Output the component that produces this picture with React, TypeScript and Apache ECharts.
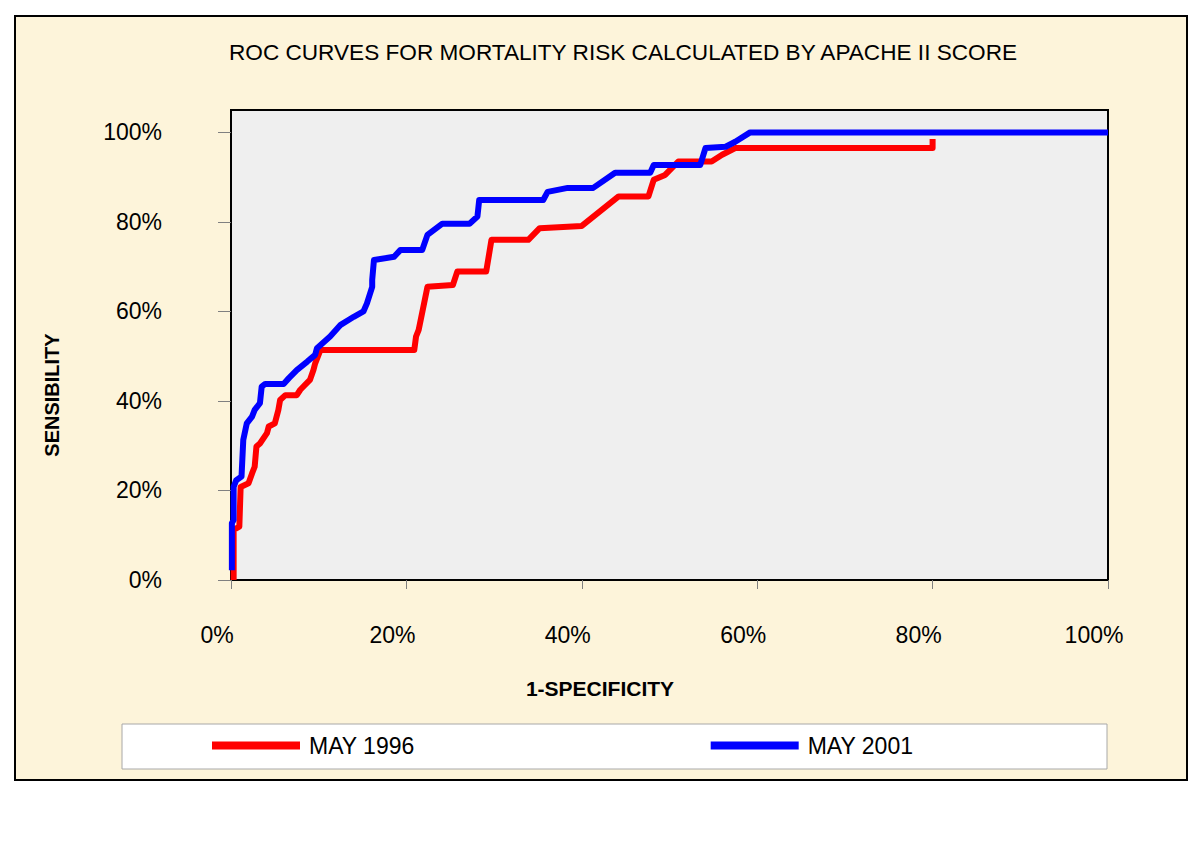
import React, { useEffect, useRef } from "react";
import * as echarts from "echarts";

const TITLE = "ROC CURVES FOR MORTALITY RISK CALCULATED BY APACHE II SCORE";
const X_NAME = "1-SPECIFICITY";
const Y_NAME = "SENSIBILITY";
const SERIES_NAMES = ["MAY 1996", "MAY 2001"];
const TICK_VALUES = [0, 0.2, 0.4, 0.6, 0.8, 1.0];

// MAY 1996 (red) ROC points: 1-specificity, sensitivity
const red1996X = [0.003, 0.003, 0.0095, 0.011, 0.02, 0.024, 0.027, 0.029, 0.033, 0.041, 0.043, 0.05, 0.054, 0.056, 0.062, 0.075, 0.079, 0.09, 0.094, 0.096, 0.102, 0.209, 0.211, 0.214, 0.224, 0.253, 0.258, 0.291, 0.297, 0.339, 0.352, 0.4, 0.442, 0.476, 0.482, 0.495, 0.51, 0.548, 0.56, 0.575, 0.8, 0.8];
const red1996Y = [0, 0.112, 0.119, 0.208, 0.216, 0.238, 0.253, 0.298, 0.305, 0.328, 0.343, 0.35, 0.38, 0.402, 0.413, 0.413, 0.425, 0.447, 0.469, 0.484, 0.514, 0.514, 0.544, 0.559, 0.655, 0.659, 0.689, 0.689, 0.76, 0.76, 0.786, 0.791, 0.857, 0.857, 0.894, 0.905, 0.935, 0.935, 0.95, 0.965, 0.965, 0.985];

// MAY 2001 (blue) ROC points
const blue2001X = [0.001, 0.001, 0.003, 0.003, 0.006, 0.012, 0.014, 0.018, 0.024, 0.027, 0.033, 0.035, 0.039, 0.06, 0.066, 0.075, 0.087, 0.096, 0.098, 0.113, 0.125, 0.14, 0.151, 0.155, 0.161, 0.161, 0.163, 0.186, 0.193, 0.218, 0.224, 0.241, 0.272, 0.281, 0.283, 0.356, 0.361, 0.384, 0.413, 0.438, 0.478, 0.482, 0.535, 0.541, 0.564, 0.575, 0.592, 1.0];
const blue2001Y = [0.022, 0.127, 0.134, 0.208, 0.223, 0.231, 0.313, 0.35, 0.365, 0.38, 0.395, 0.432, 0.438, 0.438, 0.451, 0.469, 0.488, 0.503, 0.518, 0.544, 0.57, 0.588, 0.6, 0.618, 0.655, 0.67, 0.715, 0.722, 0.737, 0.737, 0.771, 0.796, 0.796, 0.812, 0.849, 0.849, 0.867, 0.876, 0.876, 0.91, 0.91, 0.927, 0.927, 0.965, 0.968, 0.979, 1.0, 1.0];

const pct = (v: number) => {
  const k = v * 5;
  if (Math.abs(k - Math.round(k)) > 1e-6 || v > 1.0001) return "";
  return Math.round(v * 100) + "%";
};

const zip = (xs: number[], ys: number[]) => xs.map((x, i) => [x, ys[i]]);

const FONT = "Liberation Sans, Arial, sans-serif";

export default function App() {
  const ref = useRef<HTMLDivElement>(null);
  useEffect(() => {
    if (!ref.current) return;
    const chart = echarts.init(ref.current, null, { renderer: "svg" });
    chart.setOption({
      animation: false,
      backgroundColor: "#ffffff",
      title: {
        text: TITLE,
        left: 224,
        top: 36,
        textStyle: { fontFamily: FONT, fontSize: 22.6, fontWeight: "normal", color: "#000" },
      },
      graphic: [
        {
          type: "rect",
          z: -10,
          shape: { x: 15, y: 16, width: 1172, height: 764 },
          style: { fill: "#FDF4DA", stroke: "#000", lineWidth: 2 },
        },
        {
          type: "rect",
          z: -5,
          shape: { x: 122, y: 724, width: 985, height: 45 },
          style: { fill: "#ffffff", stroke: "#A8A8A8", lineWidth: 1 },
        },
        {
          type: "text",
          x: 52,
          y: 395,
          rotation: Math.PI / 2,
          style: {
            text: Y_NAME,
            fontFamily: FONT,
            fontSize: 20,
            fontWeight: "bold",
            fill: "#000",
            align: "center",
            verticalAlign: "middle",
          },
        },
        {
          type: "text",
          x: 600,
          y: 688,
          style: {
            text: X_NAME,
            fontFamily: FONT,
            fontSize: 21,
            fontWeight: "bold",
            fill: "#000",
            align: "center",
            verticalAlign: "middle",
          },
        },
      ],
      legend: {
        data: SERIES_NAMES,
        left: 207,
        top: 729,
        icon: "rect",
        itemWidth: 88,
        itemHeight: 8,
        itemGap: 296,
        textStyle: { fontFamily: FONT, fontSize: 23, color: "#000", padding: [0, 0, 0, 4] },
      },
      grid: {
        left: 231,
        top: 110,
        width: 877,
        height: 470,
        show: true,
        backgroundColor: "#EFEFEF",
        borderColor: "#000",
        borderWidth: 2,
        containLabel: false,
      },
      xAxis: {
        type: "value",
        min: 0,
        max: 1,
        interval: 0.2,
        axisLine: { show: true, lineStyle: { color: "#000", width: 2 } },
        axisTick: { show: true, length: 9, lineStyle: { color: "#808080" } },
        splitLine: { show: false },
        axisLabel: {
          formatter: pct,
          fontFamily: FONT,
          fontSize: 23,
          color: "#000",
          margin: 43,
          padding: [0, 28, 0, 0],
        },
      },
      yAxis: {
        type: "value",
        min: 0,
        max: 1.05,
        interval: 0.2,
        axisLine: { show: true, lineStyle: { color: "#000", width: 2 } },
        axisTick: {
          show: true,
          length: 13,
          customValues: TICK_VALUES,
          lineStyle: { color: "#808080" },
        },
        splitLine: { show: false },
        axisLabel: {
          formatter: pct,
          customValues: TICK_VALUES,
          fontFamily: FONT,
          fontSize: 23,
          color: "#000",
          margin: 69,
        },
      },
      series: [
        {
          name: SERIES_NAMES[0],
          type: "line",
          data: zip(red1996X, red1996Y),
          showSymbol: false,
          symbol: "none",
          lineStyle: { color: "#FF0000", width: 6, join: "round" },
          itemStyle: { color: "#FF0000" },
          z: 2,
        },
        {
          name: SERIES_NAMES[1],
          type: "line",
          data: zip(blue2001X, blue2001Y),
          showSymbol: false,
          symbol: "none",
          lineStyle: { color: "#0000FF", width: 6, join: "round" },
          itemStyle: { color: "#0000FF" },
          z: 3,
        },
      ],
    });
    return () => chart.dispose();
  }, []);
  return (
    <div
      ref={ref}
      style={{ position: "absolute", left: 0, top: 0, width: 1200, height: 842 }}
    />
  );
}
